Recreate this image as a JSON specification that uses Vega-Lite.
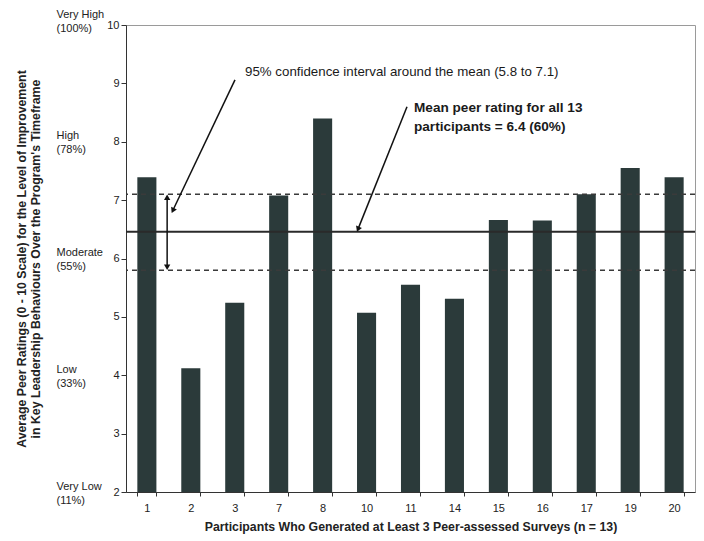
{
  "$schema": "https://vega.github.io/schema/vega-lite/v6.json",
  "width": 569,
  "height": 467,
  "autosize": "none",
  "padding": {"left": 126, "top": 25, "right": 9, "bottom": 49},
  "background": "white",
  "config": {"font": "Liberation Sans", "view": {"stroke": "#9a9a9a", "strokeWidth": 1}},
  "datasets": {
    "bars": [
      {"p": "1", "v": 7.39}, {"p": "2", "v": 4.12}, {"p": "3", "v": 5.24}, {"p": "7", "v": 7.08},
      {"p": "8", "v": 8.40}, {"p": "10", "v": 5.07}, {"p": "11", "v": 5.55}, {"p": "14", "v": 5.31},
      {"p": "15", "v": 6.66}, {"p": "16", "v": 6.65}, {"p": "17", "v": 7.10}, {"p": "19", "v": 7.55},
      {"p": "20", "v": 7.39}
    ],
    "mean": [{"y": 6.46}],
    "ci": [{"y": 7.1}, {"y": 5.8}],
    "arrows": [
      {"x": 2.49, "y": 9.06, "x2": 1.08, "y2": 6.84},
      {"x": 6.42, "y": 8.6, "x2": 5.31, "y2": 6.52},
      {"x": 0.94, "y": 7.06, "x2": 0.94, "y2": 5.84}
    ],
    "heads": [
      {"x": 1.07, "y": 6.82, "a": 205},
      {"x": 5.3, "y": 6.5, "a": 202},
      {"x": 0.94, "y": 7.05, "a": 0},
      {"x": 0.94, "y": 5.85, "a": 180}
    ],
    "note1": [
      {"x": 2.72, "y": 9.2, "t": "95% confidence interval around the mean (5.8 to 7.1)"}
    ],
    "note2": [
      {"x": 6.58, "y": 8.58, "t": "Mean peer rating for all 13"},
      {"x": 6.58, "y": 8.26, "t": "participants = 6.4 (60%)"}
    ]
  },
  "layer": [
    {
      "data": {"name": "bars"},
      "mark": {"type": "bar", "color": "#2b3a3a"},
      "encoding": {
        "x": {
          "field": "p", "type": "nominal", "sort": null,
          "scale": {"paddingInner": 0.566, "paddingOuter": 0.258},
          "axis": {
            "title": "Participants Who Generated at Least 3 Peer-assessed Surveys (n = 13)",
            "labelAngle": 0, "tickBand": "extent", "domainColor": "#333", "tickColor": "#333",
            "tickSize": 4, "labelFontSize": 11, "labelPadding": 6, "labelColor": "#222",
            "titleFontSize": 12.3, "titleFontWeight": "bold", "titlePadding": 7, "titleColor": "#222"
          }
        },
        "y": {
          "field": "v", "type": "quantitative",
          "scale": {"domain": [2, 10], "zero": false, "nice": false},
          "axis": {
            "title": null, "values": [2, 3, 4, 5, 6, 7, 8, 9, 10], "tickSize": 5, "labelFontSize": 11,
            "labelPadding": 2, "grid": false, "domainColor": "#333", "tickColor": "#333", "labelColor": "#222"
          }
        },
        "y2": {"datum": 2}
      }
    },
    {
      "data": {"name": "mean"},
      "mark": {"type": "rule", "color": "#2a2a2a", "strokeWidth": 2},
      "encoding": {
        "y": {
          "field": "y", "type": "quantitative",
          "scale": {"domain": [2, 10], "zero": false, "nice": false},
          "axis": {
            "orient": "left", "offset": 70, "values": [2, 4, 6, 8, 10],
            "labelExpr": "datum.value == 10 ? ['Very High', '(100%)'] : datum.value == 8 ? ['High', '(78%)'] : datum.value == 6 ? ['Moderate', '(55%)'] : datum.value == 4 ? ['Low', '(33%)'] : ['Very Low', '(11%)']",
            "labelAlign": "left", "labelBaseline": "middle",
            "labelOffset": {"condition": {"test": "datum.value == 10", "value": -11}, "value": -6},
            "ticks": false, "tickSize": 0, "domain": false, "labelPadding": 0, "grid": false,
            "labelFontSize": 11, "labelLineHeight": 14, "labelColor": "#222",
            "title": ["Average Peer Ratings (0 - 10 Scale) for the Level of Improvement", "in Key Leadership Behaviours Over the Program's Timeframe"],
            "titleFontSize": 12.3, "titleFontWeight": "bold", "titlePadding": 14, "titleColor": "#222", "titleLineHeight": 14
          }
        }
      }
    },
    {
      "data": {"name": "ci"},
      "mark": {"type": "rule", "color": "#3a3a3a", "strokeWidth": 1.5, "strokeDash": [5, 4]},
      "encoding": {
        "y": {"field": "y", "type": "quantitative", "scale": {"domain": [2, 10], "zero": false, "nice": false}, "axis": null}
      }
    },
    {
      "data": {"name": "arrows"},
      "mark": {"type": "rule", "color": "#111", "strokeWidth": 1.5},
      "encoding": {
        "x": {"field": "x", "type": "quantitative", "scale": {"domain": [0, 13], "nice": false, "zero": false}, "axis": null},
        "x2": {"field": "x2"},
        "y": {"field": "y", "type": "quantitative", "scale": {"domain": [2, 10], "zero": false, "nice": false}, "axis": null},
        "y2": {"field": "y2"}
      }
    },
    {
      "data": {"name": "heads"},
      "mark": {"type": "point", "shape": "triangle-up", "filled": true, "color": "#111", "opacity": 1, "size": 40},
      "encoding": {
        "x": {"field": "x", "type": "quantitative", "scale": {"domain": [0, 13], "nice": false, "zero": false}, "axis": null},
        "y": {"field": "y", "type": "quantitative", "scale": {"domain": [2, 10], "zero": false, "nice": false}, "axis": null},
        "angle": {"field": "a", "type": "quantitative", "scale": null}
      }
    },
    {
      "data": {"name": "note1"},
      "mark": {"type": "text", "align": "left", "baseline": "middle", "fontSize": 13.3, "color": "#1a1a1a"},
      "encoding": {
        "x": {"field": "x", "type": "quantitative", "scale": {"domain": [0, 13], "nice": false, "zero": false}, "axis": null},
        "y": {"field": "y", "type": "quantitative", "scale": {"domain": [2, 10], "zero": false, "nice": false}, "axis": null},
        "text": {"field": "t"}
      }
    },
    {
      "data": {"name": "note2"},
      "mark": {"type": "text", "align": "left", "baseline": "middle", "fontSize": 13.6, "fontWeight": "bold", "color": "#1a1a1a"},
      "encoding": {
        "x": {"field": "x", "type": "quantitative", "scale": {"domain": [0, 13], "nice": false, "zero": false}, "axis": null},
        "y": {"field": "y", "type": "quantitative", "scale": {"domain": [2, 10], "zero": false, "nice": false}, "axis": null},
        "text": {"field": "t"}
      }
    }
  ],
  "resolve": {"scale": {"x": "independent"}, "axis": {"x": "independent", "y": "independent"}}
}
